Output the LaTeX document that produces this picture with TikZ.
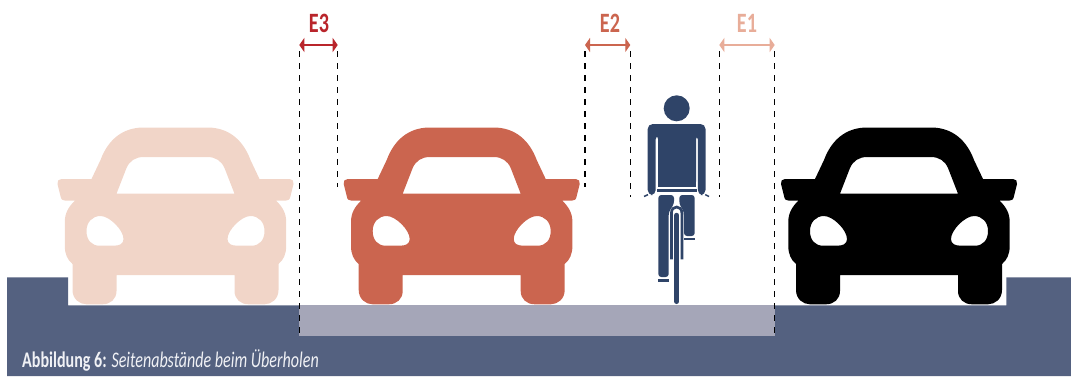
\documentclass[tikz,border=0pt]{standalone}
\usepackage{fontspec}
\setmainfont[FakeStretch=0.72]{Carlito}
\usetikzlibrary{arrows.meta}
\definecolor{roadblue}{RGB}{84, 97, 128}
\definecolor{lanegray}{RGB}{165, 166, 184}
\definecolor{riderblue}{RGB}{47, 68, 104}
\definecolor{carpale}{RGB}{241, 213, 200}
\definecolor{carred}{RGB}{203, 101, 79}
\definecolor{gapthree}{RGB}{185, 37, 43}
\definecolor{gaptwo}{RGB}{203, 101, 79}
\definecolor{gapone}{RGB}{232, 173, 153}
\definecolor{captionwhite}{RGB}{240, 241, 245}

\tikzset{
  gaparrow/.style={<->, >={Triangle[length=5pt, width=14pt]}, line width=1.8pt},
  gapguide/.style={black, line width=1.4pt, dash pattern=on 6pt off 6pt},
  gaplabel/.style={font=\fontsize{28}{28}\selectfont\bfseries, anchor=base},
  carfront/.pic={
    \fill[pic actions, even odd rule] (-32,127.5) -- (32,127.5)
      .. controls (54,127.5) and (68,141) .. (75,160) -- (84,179) -- (114,179)
      .. controls (117,179) and (118.5,181) .. (118,184) -- (115,196)
      .. controls (114.5,199.5) and (113,200.7) .. (110,200.7) -- (100.7,200.7)
      .. controls (107,207) and (110.7,213) .. (110.7,222) -- (110.7,246)
      .. controls (110.7,254) and (108,260) .. (103,264) -- (103,290)
      .. controls (103,299) and (96,304.3) .. (89,304.3) -- (73,304.3)
      .. controls (65,304.3) and (59,299) .. (59,291) -- (59,275) -- (-59,275) -- (-59,291)
      .. controls (-59,299) and (-65,304.3) .. (-73,304.3) -- (-89,304.3)
      .. controls (-96,304.3) and (-103,299) .. (-103,290) -- (-103,264)
      .. controls (-108,260) and (-110.7,254) .. (-110.7,246) -- (-110.7,222)
      .. controls (-110.7,213) and (-107,207) .. (-100.7,200.7) -- (-110,200.7)
      .. controls (-113,200.7) and (-114.5,199.5) .. (-115,196) -- (-118,184)
      .. controls (-118.5,181) and (-117,179) .. (-114,179) -- (-84,179) -- (-75,160)
      .. controls (-68,141) and (-54,127.5) .. (-32,127.5) -- cycle
      % windscreen
      (-59,193.7) -- (59,193.7) -- (49,168)
      .. controls (46,161) and (40,157) .. (32,157) -- (-32,157)
      .. controls (-40,157) and (-46,161) .. (-49,168) -- cycle
      % headlights
      (-75,216) .. controls (-66,216) and (-52,230) .. (-52,239)
      .. controls (-52,244) and (-56,245.7) .. (-62,245.7) -- (-76,245.7)
      .. controls (-84,245.7) and (-89,240) .. (-89,231)
      .. controls (-89,222) and (-83,216) .. (-75,216) -- cycle
      (75,216) .. controls (66,216) and (52,230) .. (52,239)
      .. controls (52,244) and (56,245.7) .. (62,245.7) -- (76,245.7)
      .. controls (84,245.7) and (89,240) .. (89,231)
      .. controls (89,222) and (83,216) .. (75,216) -- cycle;
  },
}

\begin{document}
\begin{tikzpicture}[x=1pt, y=-1pt]
\useasboundingbox (0,0) rectangle (1071,376);

% Road
\fill[roadblue] (7,277.3) -- (68,277.3) -- (68,305.3) -- (1006.3,305.3) -- (1006.3,277.3) -- (1071,277.3) -- (1071,376) -- (7,376) -- cycle;
\fill[lanegray] (299.3,305.3) rectangle (774.7,335.7);

% Cars
\pic[fill=carpale] (carone) at (175.5,0) {carfront};
\pic[fill=carred] (cartwo) at (461.7,0) {carfront};
\pic[fill=black] (carthree) at (899,0) {carfront};

% Cyclist
\fill[riderblue] (676.7,108.3) circle (13);
\fill[riderblue, rounded corners=5pt] (647.7,195) -- (647.7,124) -- (705.5,124) -- (705.5,195) -- (697.8,195) -- (697.8,134.3) -- (696,134.3) -- (696,186.7) -- (658.2,186.7) -- (658.2,134.3) -- (655.7,134.3) -- (655.7,195) -- cycle;
\fill[riderblue] (657.5,134) rectangle (696.3,186.7);
\fill[riderblue] (657,189) rectangle (697,191.7);
\draw[riderblue, line width=1.5pt] (644,196.5) -- (648,194.6) (705.2,194.6) -- (709,196.5);
\fill[riderblue, rounded corners=3pt] (658.3,195) -- (674,195) -- (674,204) -- (668.7,212) -- (668.7,277) -- (658.3,277) -- cycle;
\fill[riderblue, rounded corners=3pt] (679.3,195) -- (694.7,195) -- (694.7,236) -- (684,236) -- (684,212) -- (679.3,204) -- cycle;
\fill[riderblue] (658.3,279) rectangle (669,281.7);
\fill[riderblue] (684.3,237.7) rectangle (694.7,240.3);
\draw[riderblue, line width=2.7pt] (671.4,259.3) -- (671.4,213) .. controls (671.4,205) and (681.9,205) .. (681.9,213) -- (681.9,259.3);
\draw[riderblue, line width=5.3pt, line cap=round] (676.7,215.4) -- (676.7,301.4);

% Clearance marks
\coordinate (ethreel) at (299.3,45);
\coordinate (ethreer) at (337.7,45);
\coordinate (etwol) at (585,45);
\coordinate (etwor) at (630.3,45);
\coordinate (eonel) at (719.3,45);
\coordinate (eoner) at (774.7,45);
\coordinate (ethreelend) at (299.3,335);
\coordinate (ethreerend) at (337.7,187);
\coordinate (etwolend) at (585,187);
\coordinate (etworend) at (630.3,197);
\coordinate (eonelend) at (719.3,197);
\coordinate (eonerend) at (774.7,335);

\draw[gapguide] ([yshift=-6pt]ethreel) -- (ethreelend);
\draw[gapguide] ([yshift=-6pt]ethreer) -- (ethreerend);
\draw[gapguide] ([yshift=-6pt]etwol) -- (etwolend);
\draw[gapguide] ([yshift=-6pt]etwor) -- (etworend);
\draw[gapguide] ([yshift=-6pt]eonel) -- (eonelend);
\draw[gapguide] ([yshift=-6pt]eoner) -- (eonerend);

\draw[gaparrow, gapthree] (ethreel) -- (ethreer);
\draw[gaparrow, gaptwo] (etwol) -- (etwor);
\draw[gaparrow, gapone] (eonel) -- (eoner);

\node[gaplabel, text=gapthree] (ethree) at (319,32) {E3};
\node[gaplabel, text=gaptwo] (etwo) at (610,32) {E2};
\node[gaplabel, text=gapone] (eone) at (747,32) {E1};

% Caption
\node[anchor=base west, inner sep=0pt, text=captionwhite, font=\fontsize{22.3}{22.3}\selectfont] (caption) at (22,367) {\textbf{Abbildung 6:} \textit{Seitenabstände beim Überholen}};
\end{tikzpicture}
\end{document}
